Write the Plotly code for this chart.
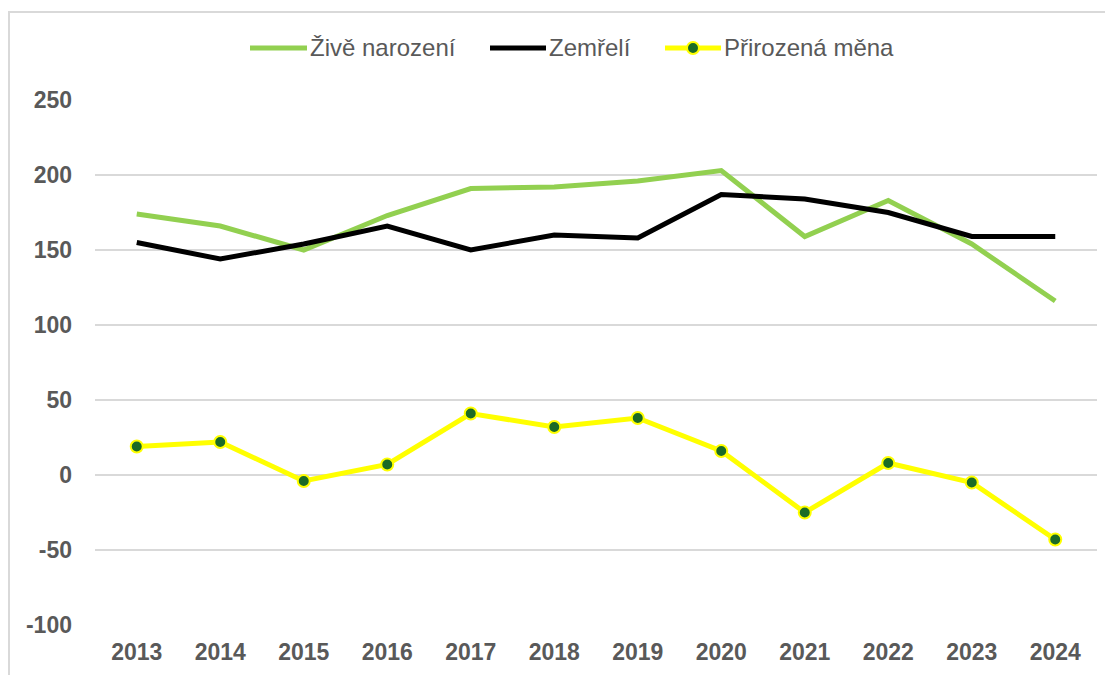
import plotly.graph_objects as go

years = ["2013", "2014", "2015", "2016", "2017", "2018", "2019", "2020", "2021", "2022", "2023", "2024"]
zive_narozeni = [174, 166, 150, 173, 191, 192, 196, 203, 159, 183, 154, 116]
zemreli = [155, 144, 154, 166, 150, 160, 158, 187, 184, 175, 159, 159]
prirozena_mena = [19, 22, -4, 7, 41, 32, 38, 16, -25, 8, -5, -43]
y_ticks = [-100, -50, 0, 50, 100, 150, 200, 250]
y_labels = ["-100", "-50", "0", "50", "100", "150", "200", "250"]
series_names = ["Živě narození", "Zemřelí", "Přirozená měna"]

# page body has an 8px margin, so the figure starts at (8, 8) of the window
OFF = 8
W, H = 1113 - OFF, 675 - OFF
ML, MR, MT, MB = 87, 16, 92, 50
pw = W - ML - MR
ph = H - MT - MB

def px_x(rx):
    return (rx - OFF - ML) / pw

def px_y(ry):
    return 1 - (ry - OFF - MT) / ph

FONT = "Liberation Sans, Arial, sans-serif"
GRAY = "#595959"
GREEN = "#92d050"
BLACK = "#000000"
YELLOW = "#ffff00"
DOT = "#1b6b26"

fig = go.Figure()
fig.add_trace(go.Scatter(x=years, y=zive_narozeni, name=series_names[0], mode="lines",
                         line=dict(color=GREEN, width=5), showlegend=False))
fig.add_trace(go.Scatter(x=years, y=zemreli, name=series_names[1], mode="lines",
                         line=dict(color=BLACK, width=5), showlegend=False))
fig.add_trace(go.Scatter(x=years, y=prirozena_mena, name=series_names[2], mode="lines+markers",
                         line=dict(color=YELLOW, width=5),
                         marker=dict(color=DOT, size=12, line=dict(color=YELLOW, width=2)),
                         showlegend=False))

# outer chart border (top and left visible)
border = "#d9d9d9"
fig.add_shape(type="line", xref="paper", yref="paper", x0=px_x(8), x1=px_x(1130),
              y0=px_y(12), y1=px_y(12), line=dict(color=border, width=2))
fig.add_shape(type="line", xref="paper", yref="paper", x0=px_x(9), x1=px_x(9),
              y0=px_y(12), y1=px_y(700), line=dict(color=border, width=2))

# custom legend (sample line + label)
legend_items = [
    (series_names[0], GREEN, 250, 307, False),
    (series_names[1], BLACK, 490, 546, False),
    (series_names[2], YELLOW, 665, 721, True),
]
LY = 48
for name, color, x0, x1, dot in legend_items:
    fig.add_shape(type="line", xref="paper", yref="paper", x0=px_x(x0), x1=px_x(x1),
                  y0=px_y(LY), y1=px_y(LY), line=dict(color=color, width=5))
    if dot:
        cx = (x0 + x1) / 2
        fig.add_shape(type="circle", xref="paper", yref="paper",
                      x0=px_x(cx - 6), x1=px_x(cx + 6), y0=px_y(LY + 6), y1=px_y(LY - 6),
                      fillcolor=DOT, line=dict(color=YELLOW, width=2))
    fig.add_annotation(text=name, xref="paper", yref="paper", x=px_x(x1 + 1), y=px_y(LY - 1),
                       xanchor="left", yanchor="middle", showarrow=False,
                       font=dict(size=24, color=GRAY, family=FONT))

fig.update_layout(
    width=W, height=H,
    margin=dict(l=ML, r=MR, t=MT, b=MB, autoexpand=False),
    paper_bgcolor="white", plot_bgcolor="white",
    font=dict(family=FONT, color=GRAY),
    showlegend=False,
    xaxis=dict(type="category", range=[-0.5, 11.5], showgrid=False, zeroline=False, showline=False,
               automargin=False,
               tickfont=dict(size=23, color=GRAY, family=FONT, weight="bold"),
               ticks="", ticklabelstandoff=11),
    yaxis=dict(range=[-100, 250], tickvals=y_ticks, ticktext=y_labels, showgrid=True,
               gridcolor="#d9d9d9", gridwidth=2, automargin=False,
               zeroline=False, showline=False, ticks="",
               tickfont=dict(size=23, color=GRAY, family=FONT, weight="bold"),
               ticklabelstandoff=22),
)

fig.write_html("out.html")
